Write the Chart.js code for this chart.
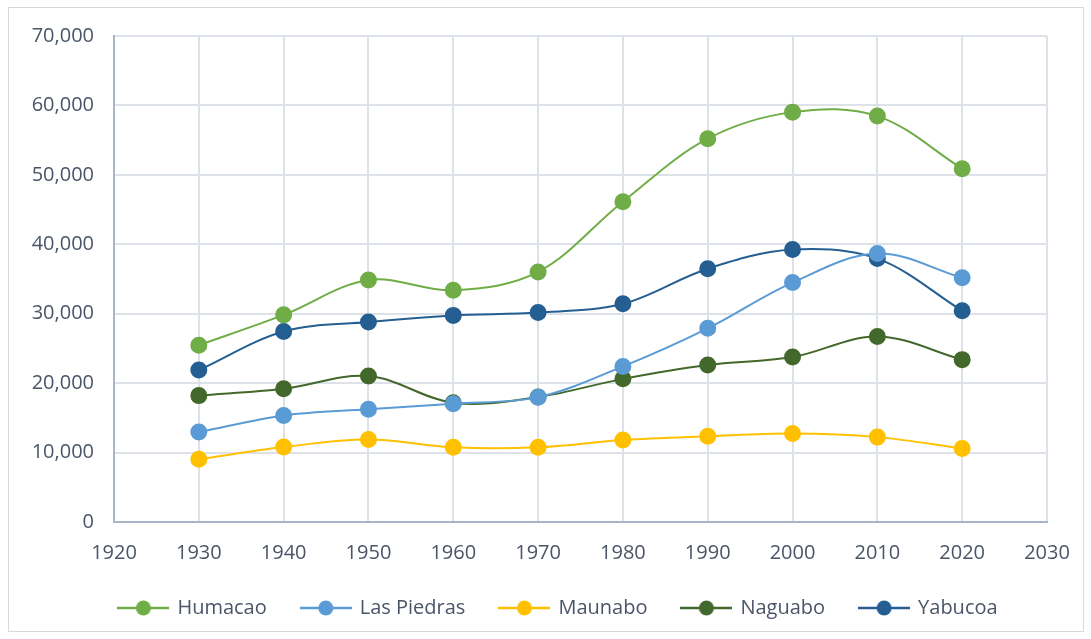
<!DOCTYPE html>
<html>
<head>
<meta charset="utf-8">
<script src="https://cdn.jsdelivr.net/npm/chart.js@4"></script>
<style>
  html, body { margin: 0; padding: 0; background: #fff; }
  #wrap { position: absolute; left: 8px; top: 7px; width: 1076px; height: 625px; border: 1px solid #d9d9d9; box-sizing: border-box; }
  #chart { position: absolute; left: 0; top: 0; }
</style>
</head>
<body>
<div id="wrap"></div>
<canvas id="chart" width="1091" height="639"></canvas>
<script>
const years = [1930, 1940, 1950, 1960, 1970, 1980, 1990, 2000, 2010, 2020];
const humacao = [25466, 29833, 34853, 33381, 36023, 46134, 55203, 59035, 58466, 50896];
const lasPiedras = [12947, 15356, 16255, 17045, 17983, 22412, 27896, 34485, 38675, 35180];
const maunabo = [9038, 10792, 11883, 10751, 10760, 11813, 12347, 12741, 12225, 10589];
const naguabo = [18203, 19180, 21016, 17175, 17996, 20617, 22620, 23753, 26720, 23386];
const yabucoa = [21881, 27438, 28810, 29760, 30165, 31425, 36483, 39246, 37941, 30426];
const xTicks = [1920, 1930, 1940, 1950, 1960, 1970, 1980, 1990, 2000, 2010, 2020, 2030];
const yTicks = [0, 10000, 20000, 30000, 40000, 50000, 60000, 70000];

const seriesNames = ["Humacao", "Las Piedras", "Maunabo", "Naguabo", "Yabucoa"];
const seriesData = [humacao, lasPiedras, maunabo, naguabo, yabucoa];
const seriesColors = ["#70ad47", "#5b9bd5", "#ffc000", "#43682b", "#255e91"];

const textColor = "#4a5568";
const gridColor = "#dde1e8";
const axisColor = "#a9b4c6";

// little line-with-dot image for each legend entry
function legendMark(color) {
  const c = document.createElement("canvas");
  c.width = 52; c.height = 16;
  const g = c.getContext("2d");
  g.strokeStyle = color;
  g.lineWidth = 2.5;
  g.beginPath(); g.moveTo(0, 8); g.lineTo(52, 8); g.stroke();
  g.fillStyle = color;
  g.beginPath(); g.arc(26, 8, 7.5, 0, Math.PI * 2); g.fill();
  return c;
}

const datasets = seriesNames.map((name, i) => ({
  label: name,
  data: years.map((y, j) => ({ x: y, y: seriesData[i][j] })),
  borderColor: seriesColors[i],
  backgroundColor: seriesColors[i],
  pointBackgroundColor: seriesColors[i],
  pointBorderColor: seriesColors[i],
  pointRadius: 7.5,
  pointHoverRadius: 7.5,
  borderWidth: 2,
  tension: 0.35,
  fill: false,
  legendImg: legendMark(seriesColors[i]),
}));

// legend in the reference sits a bit right of the chart's middle
const legendShift = {
  id: "legendShift",
  afterLayout(chart) {
    chart.legend.left += 29;
    chart.legend.right += 29;
  },
};

const ctx = document.getElementById("chart").getContext("2d");
new Chart(ctx, {
  type: "line",
  data: { datasets: datasets },
  plugins: [legendShift],
  options: {
    responsive: false,
    animation: false,
    layout: { padding: { left: 12, right: 44, top: 36, bottom: 11 } },
    plugins: {
      tooltip: { enabled: false },
      legend: {
        position: "bottom",
        labels: {
          usePointStyle: true,
          pointStyleWidth: 48,
          boxHeight: 16,
          padding: 35,
          color: textColor,
          font: { family: "Open Sans", size: 20 },
          generateLabels(chart) {
            return chart.data.datasets.map((ds, i) => ({
              text: ds.label,
              pointStyle: ds.legendImg,
              fillStyle: ds.borderColor,
              strokeStyle: ds.borderColor,
              lineWidth: 0,
              fontColor: textColor,
              hidden: false,
              datasetIndex: i,
            }));
          },
        },
      },
    },
    scales: {
      x: {
        type: "linear",
        min: 1920,
        max: 2030,
        afterBuildTicks(scale) { scale.ticks = xTicks.map(v => ({ value: v })); },
        afterFit(scale) { scale.height = 41; },
        grid: { color: gridColor, lineWidth: 2, drawTicks: false },
        border: { color: axisColor, width: 2 },
        ticks: {
          color: textColor,
          font: { family: "Open Sans", size: 20 },
          padding: 19,
          maxRotation: 0,
          callback: v => String(v),
        },
      },
      y: {
        min: 0,
        max: 70000,
        afterBuildTicks(scale) { scale.ticks = yTicks.map(v => ({ value: v })); },
        afterFit(scale) { scale.width = 102; },
        grid: { color: gridColor, lineWidth: 2, drawTicks: false },
        border: { color: axisColor, width: 2 },
        ticks: {
          color: textColor,
          font: { family: "Open Sans", size: 20 },
          padding: 20,
          callback: v => v.toLocaleString("en-US"),
        },
      },
    },
  },
});
</script>
</body>
</html>
